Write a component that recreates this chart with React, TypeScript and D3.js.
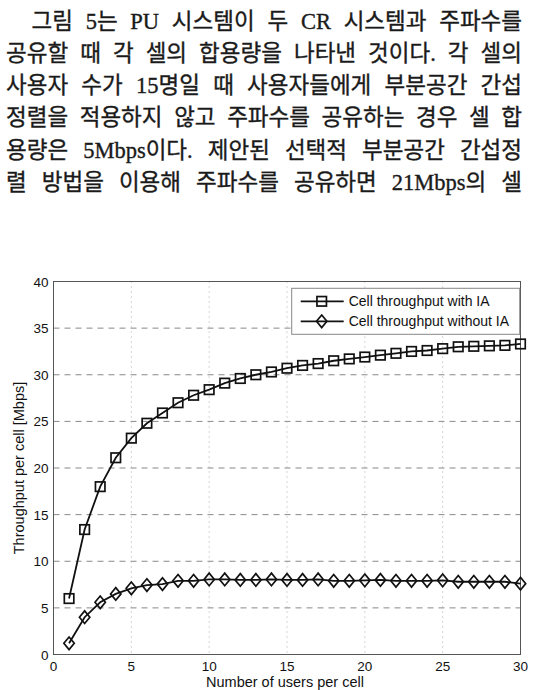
import React from "react";
import * as d3 from "d3";

const paragraphLines = [
  "그림 5는 PU 시스템이 두 CR 시스템과 주파수를",
  "공유할 때 각 셀의 합용량을 나타낸 것이다. 각 셀의",
  "사용자 수가 15명일 때 사용자들에게 부분공간 간섭",
  "정렬을 적용하지 않고 주파수를 공유하는 경우 셀 합",
  "용량은 5Mbps이다. 제안된 선택적 부분공간 간섭정",
  "렬 방법을 이용해 주파수를 공유하면 21Mbps의 셀",
];

const users = d3.range(1, 31);
const withIA = [6.0, 13.4, 18.0, 21.1, 23.2, 24.8, 25.9, 27.0, 27.8, 28.4, 29.1, 29.6, 30.0, 30.3, 30.7, 31.0, 31.2, 31.5, 31.7, 31.9, 32.1, 32.3, 32.5, 32.6, 32.8, 33.0, 33.05, 33.1, 33.15, 33.3];
const withoutIA = [1.2, 4.0, 5.6, 6.5, 7.1, 7.45, 7.55, 7.9, 7.9, 8.05, 8.05, 8.0, 8.0, 8.05, 8.0, 8.0, 8.05, 7.9, 7.9, 7.95, 8.0, 7.9, 7.9, 7.9, 7.95, 7.8, 7.8, 7.8, 7.8, 7.6];
const xTicks = [0, 5, 10, 15, 20, 25, 30];
const yTicks = [0, 5, 10, 15, 20, 25, 30, 35, 40];
const seriesNames = ["Cell throughput with IA", "Cell throughput without IA"];
const xLabel = "Number of users per cell";
const yLabel = "Throughput per cell [Mbps]";

const W = 540;
const H = 690;
const left = 53.5, right = 520.5, top = 281.5, bottom = 654.5;

const x = d3.scaleLinear().domain([0, 30]).range([left, right]);
const y = d3.scaleLinear().domain([0, 40]).range([bottom, top]);

const sans = "'Liberation Sans', Arial, Helvetica, sans-serif";
const korean = "'Liberation Serif', 'Noto Sans CJK KR', serif";
const koreanSize = 22.5;

let measureCtx: CanvasRenderingContext2D | null = null;
function measure(text: string, font: string): number {
  if (!measureCtx) {
    const c = document.createElement("canvas");
    measureCtx = c.getContext("2d");
  }
  if (!measureCtx) return text.length * 20;
  measureCtx.font = font;
  return measureCtx.measureText(text).width;
}

function Square({ cx, cy }: { cx: number; cy: number }) {
  const s = 9.5;
  return <rect x={cx - s / 2} y={cy - s / 2} width={s} height={s} fill="none" stroke="#111" strokeWidth={1.7} />;
}
function Diamond({ cx, cy }: { cx: number; cy: number }) {
  const w = 5.2, h = 6.3;
  return (
    <path
      d={`M${cx},${cy - h}L${cx + w},${cy}L${cx},${cy + h}L${cx - w},${cy}Z`}
      fill="none"
      stroke="#111"
      strokeWidth={1.7}
    />
  );
}

export default function App() {
  const line = d3
    .line<number>()
    .x((_, i) => x(users[i]))
    .y((d) => y(d));

  const lineStarts = [31.5, 6, 6, 6, 6, 6];
  const lineEnd = 522;
  const lineY0 = 28.5;
  const lineGap = 32.3;
  const font = `${koreanSize}px 'Liberation Serif', 'Noto Sans CJK KR', serif`;

  const legX = 291.7, legY = 288.3, legW = 228, legH = 46;
  const legRows = [legY + 13, legY + 33];

  return (
    <svg
      width={W}
      height={H}
      viewBox={`0 0 ${W} ${H}`}
      style={{ position: "absolute", left: 0, top: 0, background: "#fff" }}
    >
      <rect x={0} y={0} width={W} height={H} fill="#fff" />
      {paragraphLines.map((t, i) => {
        const natural = measure(t, font);
        const spaces = (t.match(/ /g) || []).length;
        const ws = spaces > 0 ? (lineEnd - lineStarts[i] - natural) / spaces : 0;
        return (
          <text
            key={i}
            x={lineStarts[i]}
            y={lineY0 + i * lineGap}
            fontFamily={korean}
            fontSize={koreanSize}
            fill="#1a1a1a"
            stroke="#1a1a1a"
            strokeWidth={0.35}
            wordSpacing={ws}
            style={{ whiteSpace: "pre" }}
          >
            {t}
          </text>
        );
      })}

      {/* grid */}
      {yTicks.filter((t) => t > 0 && t < 40).map((t) => (
        <line key={"gy" + t} x1={left} x2={right} y1={y(t)} y2={y(t)} stroke="#888" strokeWidth={1} strokeDasharray="6,5" />
      ))}
      {xTicks.filter((t) => t > 0 && t < 30).map((t) => (
        <line key={"gx" + t} x1={x(t)} x2={x(t)} y1={top} y2={bottom} stroke="#aaa" strokeWidth={1} strokeDasharray="1,4" />
      ))}

      {/* frame */}
      <rect x={left} y={top} width={right - left} height={bottom - top} fill="none" stroke="#555" strokeWidth={1} />

      {/* tick labels */}
      {yTicks.map((t) => (
        <text key={"ty" + t} x={left - 5} y={y(t) + 5} textAnchor="end" fontFamily={sans} fontSize={13.5} fill="#111">
          {t}
        </text>
      ))}
      {xTicks.map((t) => (
        <text key={"tx" + t} x={x(t)} y={671} textAnchor="middle" fontFamily={sans} fontSize={13.5} fill="#111">
          {t}
        </text>
      ))}

      <text x={(left + right) / 2 - 2} y={687} textAnchor="middle" fontFamily={sans} fontSize={14.5} fill="#111">
        {xLabel}
      </text>
      <text
        transform={`translate(24,${(top + bottom) / 2}) rotate(-90)`}
        textAnchor="middle"
        fontFamily={sans}
        fontSize={14.5}
        fill="#111"
      >
        {yLabel}
      </text>

      {/* series */}
      <path d={line(withIA) || ""} fill="none" stroke="#111" strokeWidth={1.8} />
      <path d={line(withoutIA) || ""} fill="none" stroke="#111" strokeWidth={1.8} />
      {withIA.map((v, i) => (
        <Square key={"s" + i} cx={x(users[i])} cy={y(v)} />
      ))}
      {withoutIA.map((v, i) => (
        <Diamond key={"d" + i} cx={x(users[i])} cy={y(v)} />
      ))}

      {/* legend */}
      <rect x={legX} y={legY} width={legW} height={legH} fill="#fff" stroke="#888" strokeWidth={1} />
      {seriesNames.map((n, i) => (
        <g key={n}>
          <line x1={legX + 9} x2={legX + 52} y1={legRows[i]} y2={legRows[i]} stroke="#111" strokeWidth={1.8} />
          {i === 0 ? (
            <Square cx={legX + 30} cy={legRows[i]} />
          ) : (
            <Diamond cx={legX + 30} cy={legRows[i]} />
          )}
          <text x={legX + 57} y={legRows[i] + 5} fontFamily={sans} fontSize={14} fill="#111">
            {n}
          </text>
        </g>
      ))}
    </svg>
  );
}
